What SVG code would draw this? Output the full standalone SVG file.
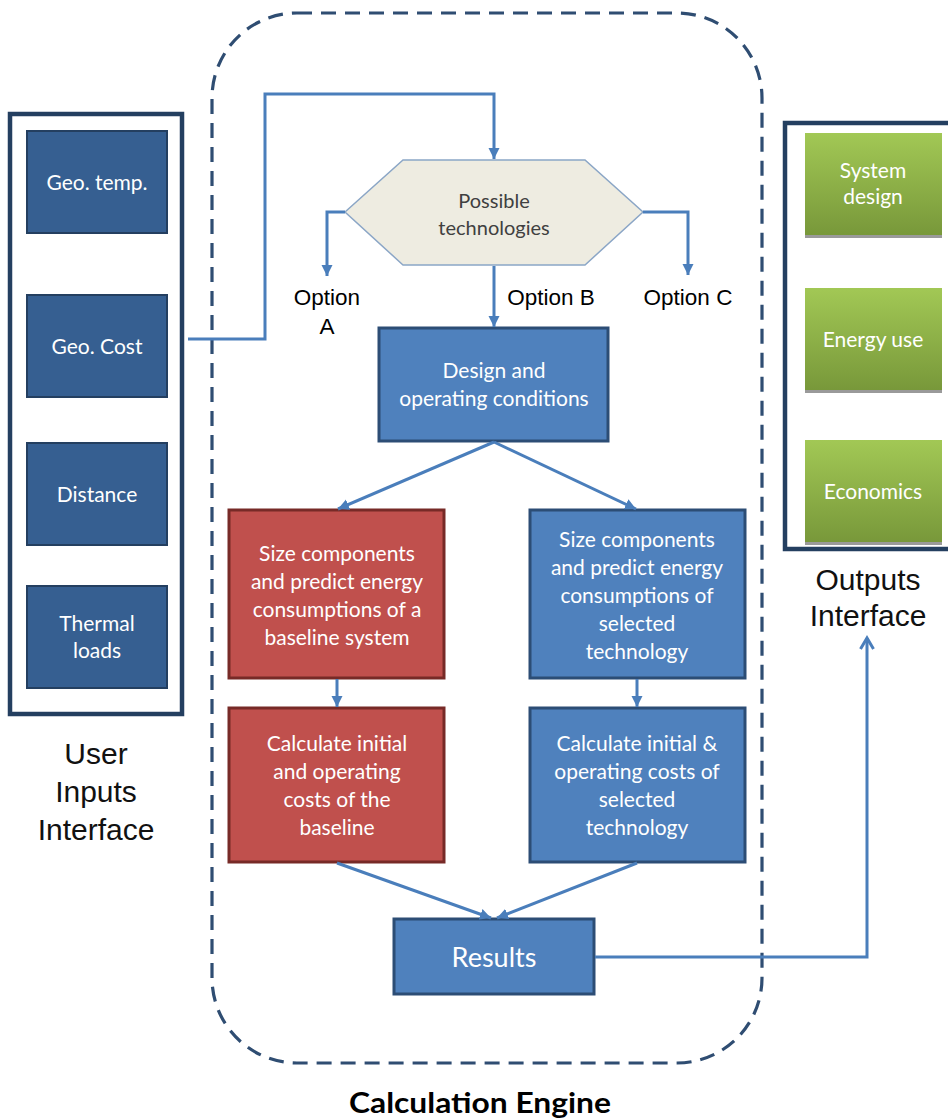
<svg xmlns="http://www.w3.org/2000/svg" width="948" height="1120" viewBox="0 0 948 1120">
<style>
.cal{font-family:Lato,"Open Sans","Liberation Sans",sans-serif;}
.ar{font-family:"Liberation Sans",Arial,sans-serif;}
.w{fill:#ffffff;font-size:21px;text-anchor:middle;}
.in{fill:#365F91;stroke:#243F60;stroke-width:2;}
.blue{fill:#4F81BD;stroke:#2C4D75;stroke-width:3;}
.red{fill:#C0504D;stroke:#772A27;stroke-width:3;}
.grn{fill:url(#g);}
.panel{fill:#ffffff;stroke:#243F60;stroke-width:4.5;}
.con{fill:none;stroke:#4A7EBB;stroke-width:3;}
.lbl{fill:#000000;font-size:22.5px;text-anchor:middle;}
.big{fill:#111111;font-size:30px;text-anchor:middle;}
</style>
<defs>
<linearGradient id="g" x1="0" y1="0" x2="0" y2="1">
<stop offset="0" stop-color="#A2C855"/>
<stop offset="1" stop-color="#78983A"/>
</linearGradient>
<marker id="a" markerUnits="userSpaceOnUse" markerWidth="12" markerHeight="12" refX="11" refY="6" orient="auto">
<path d="M0,0.5 L11,6 L0,11.5 z" fill="#4A7EBB"/>
</marker>
<marker id="o" markerUnits="userSpaceOnUse" markerWidth="16" markerHeight="16" refX="13" refY="8" orient="auto">
<path d="M2,1.5 L13,8 L2,14.5" fill="none" stroke="#4A7EBB" stroke-width="3"/>
</marker>
</defs>
<rect width="948" height="1120" fill="#ffffff"/>

<g id="engine">
<rect x="212" y="13" width="550" height="1050" rx="85" ry="85" fill="none" stroke="#2F4D72" stroke-width="3.2" stroke-dasharray="15 9"/>
<text class="cal" x="480" y="1113" font-size="28" font-weight="bold" text-anchor="middle" fill="#000" textLength="262" lengthAdjust="spacingAndGlyphs">Calculation Engine</text>
</g>

<g id="inputs">
<rect class="panel" x="10" y="114" width="172" height="600"/>
<text class="ar big" x="96" y="764">User</text>
<text class="ar big" x="96" y="802">Inputs</text>
<text class="ar big" x="96" y="840">Interface</text>
</g>
<g id="geo-temp"><rect class="in" x="27" y="131" width="140" height="102"/><text class="cal w" x="97" y="190">Geo. temp.</text></g>
<g id="geo-cost"><rect class="in" x="27" y="295" width="140" height="102"/><text class="cal w" x="97" y="354">Geo. Cost</text></g>
<g id="distance"><rect class="in" x="27" y="443" width="140" height="102"/><text class="cal w" x="97" y="502">Distance</text></g>
<g id="thermal"><rect class="in" x="27" y="586" width="140" height="102"/><text class="cal w" x="97" y="631">Thermal</text><text class="cal w" x="97" y="658">loads</text></g>

<g id="outputs">
<rect class="panel" x="785" y="123" width="170" height="426"/>
<text class="ar big" x="868" y="590">Outputs</text>
<text class="ar big" x="868" y="626">Interface</text>
</g>
<g id="system-design"><rect x="805" y="235" width="137" height="3" fill="#9A9A9A"/><rect class="grn" x="805" y="133" width="137" height="102"/><text class="cal w" x="873" y="178">System</text><text class="cal w" x="873" y="204">design</text></g>
<g id="energy-use"><rect x="805" y="390" width="137" height="3" fill="#9A9A9A"/><rect class="grn" x="805" y="288" width="137" height="102"/><text class="cal w" x="873" y="347">Energy use</text></g>
<g id="economics"><rect x="805" y="542" width="137" height="3" fill="#9A9A9A"/><rect class="grn" x="805" y="440" width="137" height="102"/><text class="cal w" x="873" y="499">Economics</text></g>

<g id="technologies">
<polygon points="345,212 403,160 585,160 643,212 585,265 403,265" fill="#EEECE1" stroke="#8BA6C6" stroke-width="1.5"/>
<text class="cal" x="494" y="208" font-size="20" text-anchor="middle" fill="#404040">Possible</text>
<text class="cal" x="494" y="235" font-size="20" text-anchor="middle" fill="#404040">technologies</text>
</g>
<g id="design"><rect class="blue" x="379" y="328" width="229" height="113"/><text class="cal w" x="494" y="378">Design and</text><text class="cal w" x="494" y="406">operating conditions</text></g>
<g id="size-baseline"><rect class="red" x="229" y="510" width="215" height="168"/>
<text class="cal w" x="337" y="561">Size components</text><text class="cal w" x="337" y="589">and predict energy</text><text class="cal w" x="337" y="617">consumptions of a</text><text class="cal w" x="337" y="645">baseline system</text></g>
<g id="cost-baseline"><rect class="red" x="229" y="708" width="215" height="154"/>
<text class="cal w" x="337" y="751">Calculate initial</text><text class="cal w" x="337" y="779">and operating</text><text class="cal w" x="337" y="807">costs of the</text><text class="cal w" x="337" y="835">baseline</text></g>
<g id="size-selected"><rect class="blue" x="530" y="510" width="215" height="168"/>
<text class="cal w" x="637" y="547">Size components</text><text class="cal w" x="637" y="575">and predict energy</text><text class="cal w" x="637" y="603">consumptions of</text><text class="cal w" x="637" y="631">selected</text><text class="cal w" x="637" y="659">technology</text></g>
<g id="cost-selected"><rect class="blue" x="530" y="708" width="215" height="154"/>
<text class="cal w" x="637" y="751">Calculate initial &amp;</text><text class="cal w" x="637" y="779">operating costs of</text><text class="cal w" x="637" y="807">selected</text><text class="cal w" x="637" y="835">technology</text></g>
<g id="results"><rect class="blue" x="394" y="919" width="200" height="75"/><text class="cal w" style="font-size:27px" x="494" y="967">Results</text></g>

<g id="option-labels">
<text class="ar lbl" x="327" y="305">Option</text>
<text class="ar lbl" x="327" y="334">A</text>
<text class="ar lbl" x="551" y="305">Option B</text>
<text class="ar lbl" x="688" y="305">Option C</text>
</g>

<g id="connectors">
<path class="con" d="M188,339 H265 V94 H494 V159" marker-end="url(#a)"/>
<path class="con" d="M345,212 H327 V276" marker-end="url(#a)"/>
<path class="con" d="M643,212 H688 V275" marker-end="url(#a)"/>
<path class="con" d="M494,266 V327" marker-end="url(#a)"/>
<path class="con" d="M494,442 L338,509" marker-end="url(#a)"/>
<path class="con" d="M494,442 L636,509" marker-end="url(#a)"/>
<path class="con" d="M337,679 V707" marker-end="url(#a)"/>
<path class="con" d="M637,679 V707" marker-end="url(#a)"/>
<path class="con" d="M337,863 L491,918" marker-end="url(#a)"/>
<path class="con" d="M637,863 L497,918" marker-end="url(#a)"/>
<path class="con" d="M595,957 H867 V638" marker-end="url(#o)"/>
</g>
</svg>
